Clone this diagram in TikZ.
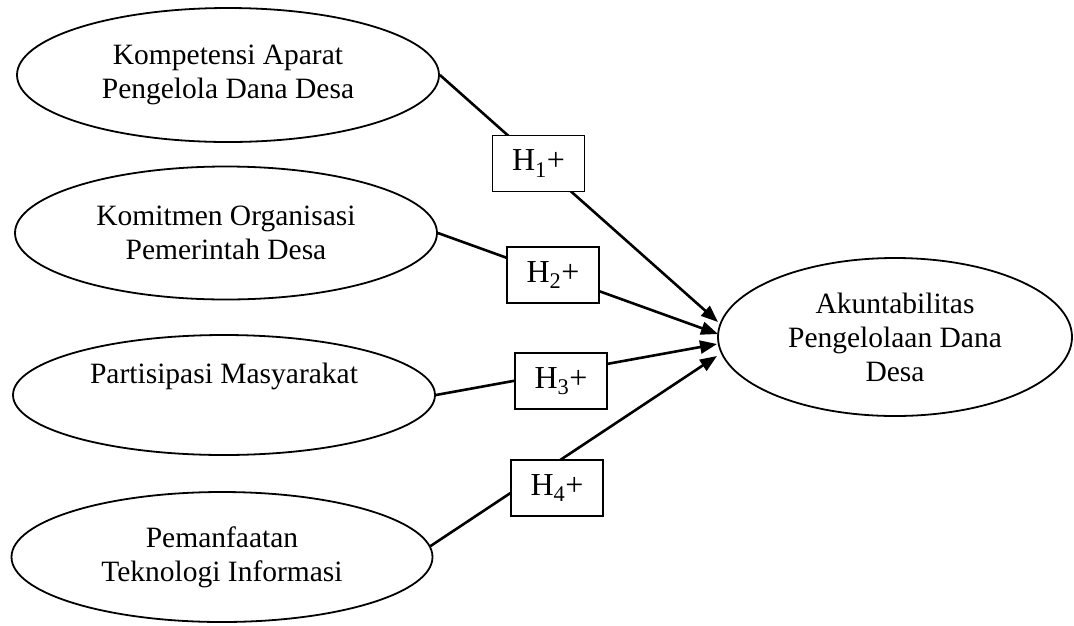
\documentclass[tikz,border=0pt]{standalone}
\usepackage{fontspec}
\setmainfont{Liberation Serif}
\usetikzlibrary{shapes.geometric,arrows.meta,backgrounds}
\begin{document}
\begin{tikzpicture}[x=1pt,y=-1pt,
  var/.style={ellipse,draw,line width=1.8pt,inner sep=0pt,align=center,
    font=\fontsize{29.5}{34}\selectfont},
  hyp/.style={draw,fill=white,line width=1.8pt,minimum width=92pt,
    minimum height=56pt,inner sep=0pt,font=\fontsize{32}{36}\selectfont},
  conn/.style={line width=2.6pt},
  arr/.style={conn,-{Triangle[length=17pt,width=13pt]}}]
\useasboundingbox (0,0) rectangle (1074,625);
\node[var,minimum width=422pt,minimum height=134pt] (e1) at (228,75)
  {Kompetensi Aparat\\Pengelola Dana Desa};
\node[var,minimum width=422pt,minimum height=133pt] (e2) at (226,233)
  {Komitmen Organisasi\\Pemerintah Desa};
\node[var,minimum width=422pt,minimum height=120pt] (e3) at (224,395)
  {Partisipasi Masyarakat\\\strut};
\node[var,minimum width=421pt,minimum height=130pt] (e4) at (222,557)
  {Pemanfaatan\\Teknologi Informasi};
\node[var,minimum width=354pt,minimum height=158pt] (y) at (895,337)
  {Akuntabilitas\\Pengelolaan Dana\\Desa};
\node[hyp] (h1) at (538.5,163.5) {H\textsubscript{1}+};
\node[hyp] (h2) at (553,275) {H\textsubscript{2}+};
\node[hyp] (h3) at (561,381) {H\textsubscript{3}+};
\node[hyp] (h4) at (557,488) {H\textsubscript{4}+};
\coordinate (t1) at (718,322);
\coordinate (t2) at (718,334);
\coordinate (t3) at (717,344);
\coordinate (t4) at (717,356);
\begin{scope}[on background layer]
  \draw[arr] (e1.east) -- (t1);
  \draw[arr] (e2.east) -- (t2);
  \draw[arr] (e3.east) -- (t3);
  \draw[arr] (e4.3) -- (t4);
\end{scope}
\end{tikzpicture}
\end{document}
